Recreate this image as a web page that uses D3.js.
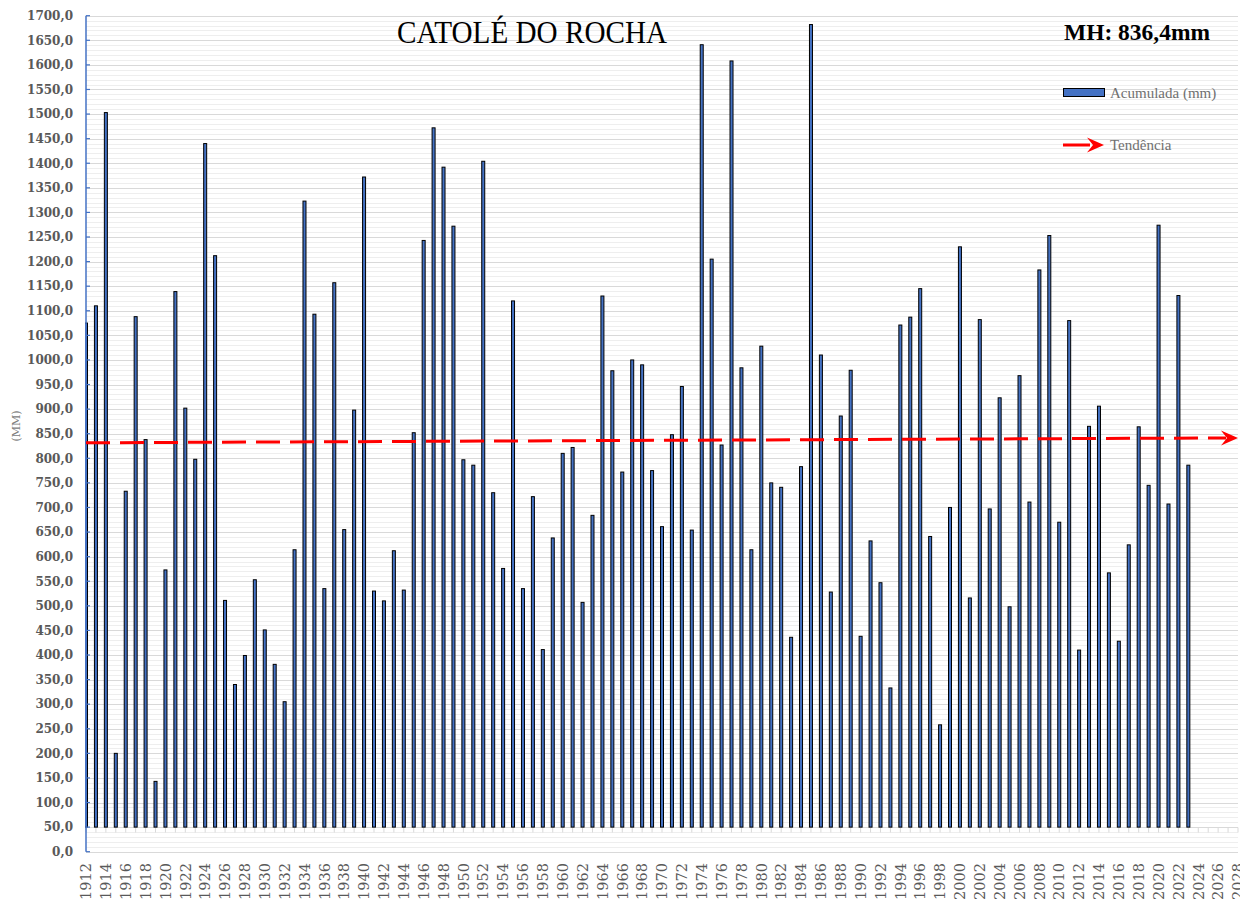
<!DOCTYPE html>
<html>
<head>
<meta charset="utf-8">
<script src="https://cdn.jsdelivr.net/npm/d3@7"></script>
<style>
  html, body { margin: 0; padding: 0; background: #ffffff; }
  svg { display: block; }
</style>
</head>
<body>
<svg id="chart" width="1240" height="903"></svg>
<script>
// ---------------- DATA ----------------
const title = "CATOLÉ DO ROCHA";
const mhLabel = "MH: 836,4mm";
const yAxisTitle = "(MM)";
const seriesName = "Acumulada (mm)";
const trendName = "Tendência";

// x categories (years shown on the axis)
const categories = d3.range(1912, 2029);

// annual accumulated rainfall (mm), 1912 .. 2023
const rainfall = [
  1075, 1110, 1503, 200, 733, 1088, 838, 143, 573, 1139,
  902, 798, 1440, 1212, 511, 340, 399, 553, 451, 381,
  305, 614, 1323, 1093, 535, 1157, 655, 898, 1372, 530,
  510, 612, 532, 852, 1243, 1472, 1392, 1272, 797, 786,
  1404, 730, 576, 1120, 535, 722, 411, 638, 810, 822,
  507, 684, 1130, 978, 772, 1000, 990, 775, 661, 848,
  946, 654, 1641, 1205, 827, 1608, 984, 614, 1028, 750,
  741, 436, 783, 1682, 1010, 528, 886, 979, 438, 632,
  547, 333, 1071, 1087, 1145, 641, 258, 700, 1230, 516,
  1082, 697, 923, 498, 968, 711, 1183, 1253, 670, 1080,
  410, 865, 906, 567, 428, 624, 864, 745, 1274, 707,
  1131, 786
];
const barYears = categories.slice(0, rainfall.length);

// linear trend: values read at first and last category
const trendYears = [1912, 2028];
const trendValues = [831.5, 841.5];

// axis
const yTicks = d3.range(0, 1701, 50);
const yMinor = d3.range(0, 1701, 10);
const xTickLabels = categories.filter(v => (v - 1912) % 2 === 0);
const barBase = 50; // horizontal axis crosses at 50

// ---------------- LAYOUT ----------------
const svg = d3.select("#chart");
const plotLeft = 86, plotRight = 1238, plotTop = 15.7, plotBottom = 851.7;

const x = d3.scalePoint().domain(categories).range([plotLeft, plotRight]);
const y = d3.scaleLinear().domain([0, 1700]).range([plotBottom, plotTop]);

const fmt = v => d3.format(".1f")(v).replace(".", ",");

svg.append("defs").append("clipPath").attr("id", "plotclip")
  .append("rect").attr("x", plotLeft - 1).attr("y", 0)
  .attr("width", plotRight - plotLeft + 2).attr("height", plotBottom + 2);

// minor gridlines
svg.append("g").selectAll("line")
  .data(yMinor.filter(v => v % 50 !== 0))
  .join("line")
  .attr("x1", plotLeft).attr("x2", plotRight)
  .attr("y1", d => Math.round(y(d)) + 0.5).attr("y2", d => Math.round(y(d)) + 0.5)
  .attr("stroke", "#eeeeee").attr("stroke-width", 1);

// major gridlines
svg.append("g").selectAll("line")
  .data(yTicks)
  .join("line")
  .attr("x1", plotLeft).attr("x2", plotRight)
  .attr("y1", d => Math.round(y(d)) + 0.5).attr("y2", d => Math.round(y(d)) + 0.5)
  .attr("stroke", "#d9d9d9").attr("stroke-width", 1.2);

// horizontal category axis at value 50
const xAxisY = Math.round(y(barBase)) + 0.5;
svg.append("line")
  .attr("x1", plotLeft).attr("x2", plotRight)
  .attr("y1", xAxisY).attr("y2", xAxisY)
  .attr("stroke", "#d9d9d9").attr("stroke-width", 1.2);
svg.append("g").selectAll("line")
  .data(categories)
  .join("line")
  .attr("x1", d => x(d)).attr("x2", d => x(d))
  .attr("y1", xAxisY).attr("y2", xAxisY + 5)
  .attr("stroke", "#d9d9d9").attr("stroke-width", 1);

// bars
svg.append("g").attr("clip-path", "url(#plotclip)")
  .selectAll("rect")
  .data(barYears.map((yr, i) => ({ yr, v: rainfall[i] })))
  .join("rect")
  .attr("x", d => x(d.yr) - 1.5)
  .attr("width", 3)
  .attr("y", d => y(d.v))
  .attr("height", d => y(barBase) - y(d.v))
  .attr("fill", "#4472c4")
  .attr("stroke", "#000000")
  .attr("stroke-width", 1);

// vertical axis (blue)
svg.append("line")
  .attr("x1", plotLeft).attr("x2", plotLeft)
  .attr("y1", plotTop).attr("y2", plotBottom)
  .attr("stroke", "#4472c4").attr("stroke-width", 1.5);
svg.append("g").selectAll("line")
  .data(yTicks)
  .join("line")
  .attr("x1", plotLeft).attr("x2", plotLeft + 4)
  .attr("y1", d => y(d)).attr("y2", d => y(d))
  .attr("stroke", "#4472c4").attr("stroke-width", 1.2);

// y tick labels
svg.append("g").selectAll("text")
  .data(yTicks)
  .join("text")
  .attr("x", 73)
  .attr("y", d => y(d))
  .attr("dy", "0.36em")
  .attr("text-anchor", "end")
  .attr("font-family", "'DejaVu Serif', serif")
  .attr("font-weight", "bold")
  .attr("font-size", 12)
  .attr("fill", "#595959")
  .text(fmt);

// x tick labels (rotated)
svg.append("g").selectAll("text")
  .data(xTickLabels)
  .join("text")
  .attr("transform", d => `translate(${x(d)},863) rotate(-90)`)
  .attr("dy", "0.36em")
  .attr("text-anchor", "end")
  .attr("font-family", "'DejaVu Serif', serif")
  .attr("font-size", 14.5)
  .attr("fill", "#595959")
  .text(d => d);

// y axis title
svg.append("text")
  .attr("transform", "translate(16,426) rotate(-90)")
  .attr("dy", "0.35em")
  .attr("text-anchor", "middle")
  .attr("font-family", "'DejaVu Serif', serif")
  .attr("font-size", 11)
  .attr("fill", "#808080")
  .text(yAxisTitle);

// trend line (dashed red with arrow head)
const tx0 = x(trendYears[0]), tx1 = x(trendYears[1]);
const ty0 = y(trendValues[0]), ty1 = y(trendValues[1]);
const arrowLen = 16;
const ang = Math.atan2(ty1 - ty0, tx1 - tx0);
svg.append("line")
  .attr("x1", tx0).attr("y1", ty0)
  .attr("x2", tx1 - arrowLen * 0.75 * Math.cos(ang)).attr("y2", ty1 - arrowLen * 0.75 * Math.sin(ang))
  .attr("stroke", "#ff0000").attr("stroke-width", 3)
  .attr("stroke-dasharray", "24,10");
function arrowHead(g, tipX, tipY, a) {
  const L = 17, H = 7.5, notch = 6;
  const pts = [[0, 0], [-L, -H], [-L + notch, 0], [-L, H]];
  const rot = pts.map(([px, py]) => [tipX + px * Math.cos(a) - py * Math.sin(a), tipY + px * Math.sin(a) + py * Math.cos(a)]);
  g.append("path").attr("d", "M" + rot.map(p => p.join(",")).join("L") + "Z").attr("fill", "#ff0000");
}
arrowHead(svg, tx1, ty1, ang);

// title
svg.append("text")
  .attr("x", 397).attr("y", 43.3)
  .attr("font-family", "'Liberation Serif', serif")
  .attr("font-size", 32)
  .attr("textLength", 270)
  .attr("lengthAdjust", "spacingAndGlyphs")
  .attr("fill", "#000000")
  .text(title);

// MH label
svg.append("text")
  .attr("x", 1064).attr("y", 40)
  .attr("font-family", "'Liberation Serif', serif")
  .attr("font-weight", "bold")
  .attr("font-size", 22.5)
  .attr("textLength", 146)
  .attr("lengthAdjust", "spacingAndGlyphs")
  .attr("fill", "#000000")
  .text(mhLabel);

// legend
svg.append("rect")
  .attr("x", 1063.5).attr("y", 88.5).attr("width", 41).attr("height", 8)
  .attr("fill", "#4472c4").attr("stroke", "#000000").attr("stroke-width", 1);
svg.append("text")
  .attr("x", 1110).attr("y", 98)
  .attr("font-family", "'Liberation Serif', serif")
  .attr("font-size", 15)
  .attr("fill", "#707070")
  .text(seriesName);
svg.append("line")
  .attr("x1", 1063).attr("x2", 1090).attr("y1", 145).attr("y2", 145)
  .attr("stroke", "#ff0000").attr("stroke-width", 3);
arrowHead(svg, 1104, 145, 0);
svg.append("text")
  .attr("x", 1110).attr("y", 150)
  .attr("font-family", "'Liberation Serif', serif")
  .attr("font-size", 15)
  .attr("fill", "#707070")
  .text(trendName);
</script>
</body>
</html>
